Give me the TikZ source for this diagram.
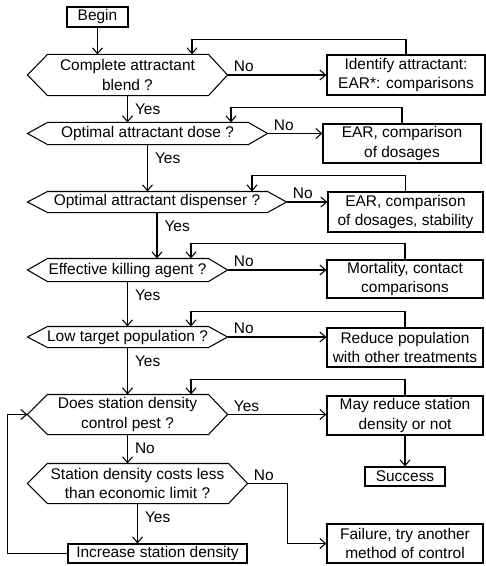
\documentclass[tikz,border=0pt]{standalone}
\usepackage{fontspec}
\setmainfont{Liberation Sans}
\usetikzlibrary{arrows.meta}

\begin{document}
\begin{tikzpicture}[x=0.03cm, y=-0.03cm, line width=0.9pt,
  >={Straight Barb[length=5pt,width=8.5pt]},
  every node/.style={font=\fontsize{13.2}{17}\selectfont, align=center, inner sep=0pt},
  dec/.style={rectangle},
  blk/.style={draw, rectangle},
  yeslab/.style={anchor=north west, inner sep=2pt, xshift=4pt, yshift=-4.5pt},
  nolab/.style={anchor=south west, inner sep=2pt, xshift=3pt}]
\useasboundingbox (0,0) rectangle (486,566);
% left column: questions
\node (begin)[blk, minimum width=1.83cm, minimum height=0.6cm] at (97.5,17) {Begin};
\node (q1)[dec, minimum width=5.97cm, minimum height=1.2cm] at (127.5,75) {Complete attractant\\blend ?};
\node (q2)[dec, minimum width=7.17cm, minimum height=0.63cm] at (147.5,133.5) {Optimal attractant dose ?};
\node (q3)[dec, minimum width=7.74cm, minimum height=0.6cm] at (157,202) {Optimal attractant dispenser ?};
\node (q4)[dec, minimum width=5.97cm, minimum height=0.66cm] at (127.5,270) {Effective killing agent ?};
\node (q5)[dec, minimum width=5.97cm, minimum height=0.6cm] at (127.5,337) {Low target population ?};
\node (q6)[dec, minimum width=5.97cm, minimum height=1.17cm] at (127.5,414.5) {Does station density\\control pest ?};
\node (q7)[dec, minimum width=6.57cm, minimum height=1.17cm] at (137.5,483.5) {Station density costs less\\than economic limit ?};
\node (b8)[blk, minimum width=5.37cm, minimum height=0.57cm] at (157.5,553.5) {Increase station density};
% right column: actions
\node (b1)[blk, minimum width=4.74cm, minimum height=1.2cm] at (406,75) {Identify attractant:\\EAR*: comparisons};
\node (b2)[blk, minimum width=4.74cm, minimum height=1.17cm] at (402,143.5) {EAR, comparison\\of dosages};
\node (b3)[blk, minimum width=4.65cm, minimum height=1.2cm] at (405.5,212) {EAR, comparison\\of dosages, stability};
\node (b4)[blk, minimum width=4.68cm, minimum height=1.14cm] at (405,279) {Mortality, contact\\comparisons};
\node (b5)[blk, minimum width=4.68cm, minimum height=1.17cm] at (405,347.5) {Reduce population\\with other treatments};
\node (b6)[blk, minimum width=4.68cm, minimum height=1.17cm] at (405,415.5) {May reduce station\\density or not};
\node (succ)[blk, minimum width=2.4cm, minimum height=0.57cm] at (405,476.5) {Success};
\node (b7)[blk, minimum width=4.68cm, minimum height=1.17cm] at (405,543.5) {Failure, try another\\method of control};
% hexagon outlines
\foreach \i in {1,...,7}
  \draw (q\i.west) -- ([xshift=0.6cm]q\i.north west) -- ([xshift=-0.57cm]q\i.north east) -- (q\i.east)
    -- ([xshift=-0.57cm]q\i.south east) -- ([xshift=0.6cm]q\i.south west) -- cycle;
% yes branches
\draw[->] (begin.south) -- (begin.south |- q1.north);
\draw[->] (q1.south) -- node[pos=0, yeslab] {Yes} (q1.south |- q2.north);
\draw[->] (q2.south) -- node[pos=0, yeslab] {Yes} (q2.south |- q3.north);
\draw[->] (q3.south) -- node[pos=0, yeslab] {Yes} (q3.south |- q4.north);
\draw[->] (q4.south) -- node[pos=0, yeslab] {Yes} (q4.south |- q5.north);
\draw[->] (q5.south) -- node[pos=0, yeslab] {Yes} (q5.south |- q6.north);
\draw[->] (q6.south) -- node[pos=0, yeslab] {No} (q6.south |- q7.north);
\draw[->] (q7.south) -- node[pos=0, yeslab] {Yes} (q7.south |- b8.north);
% no branches
\draw[->] (q1.east) -- node[pos=0, nolab] {No} (q1.east -| b1.west);
\draw[->] (q2.east) -- node[pos=0, nolab] {No} (q2.east -| b2.west);
\draw[->] (q3.east) -- node[pos=0, nolab] {No} (q3.east -| b3.west);
\draw[->] (q4.east) -- node[pos=0, nolab] {No} (q4.east -| b4.west);
\draw[->] (q5.east) -- node[pos=0, nolab] {No} (q5.east -| b5.west);
\draw[->] (q6.east) -- node[pos=0, nolab] {Yes} (q6.east -| b6.west);
\draw[->] (q7.east) -- node[pos=0, nolab] {No} ++(40,0) |- (b7.west);
\draw[->] (b6.south) -- (succ.north);
% loops back
\draw[->] (b1.north) -- ++(0,-15) -| ([xshift=1.935cm]q1.north);
\draw[->] (b2.north) -- ++(0,-16) -| ([xshift=2.505cm]q2.north);
\draw[->] (b3.north) -- ++(0,-16) -| ([xshift=2.85cm]q3.north);
\draw[->] (b4.north) -- ++(0,-16) -| ([xshift=1.905cm]q4.north);
\draw[->] (b5.north) -- ++(0,-16) -| ([xshift=1.905cm]q5.north);
\draw[->] (b6.north) -- ++(0,-16) -| ([xshift=1.905cm]q6.north);
\draw[->] (b8.west) -- ++(-60,0) |- (q6.west);
\end{tikzpicture}
\end{document}
